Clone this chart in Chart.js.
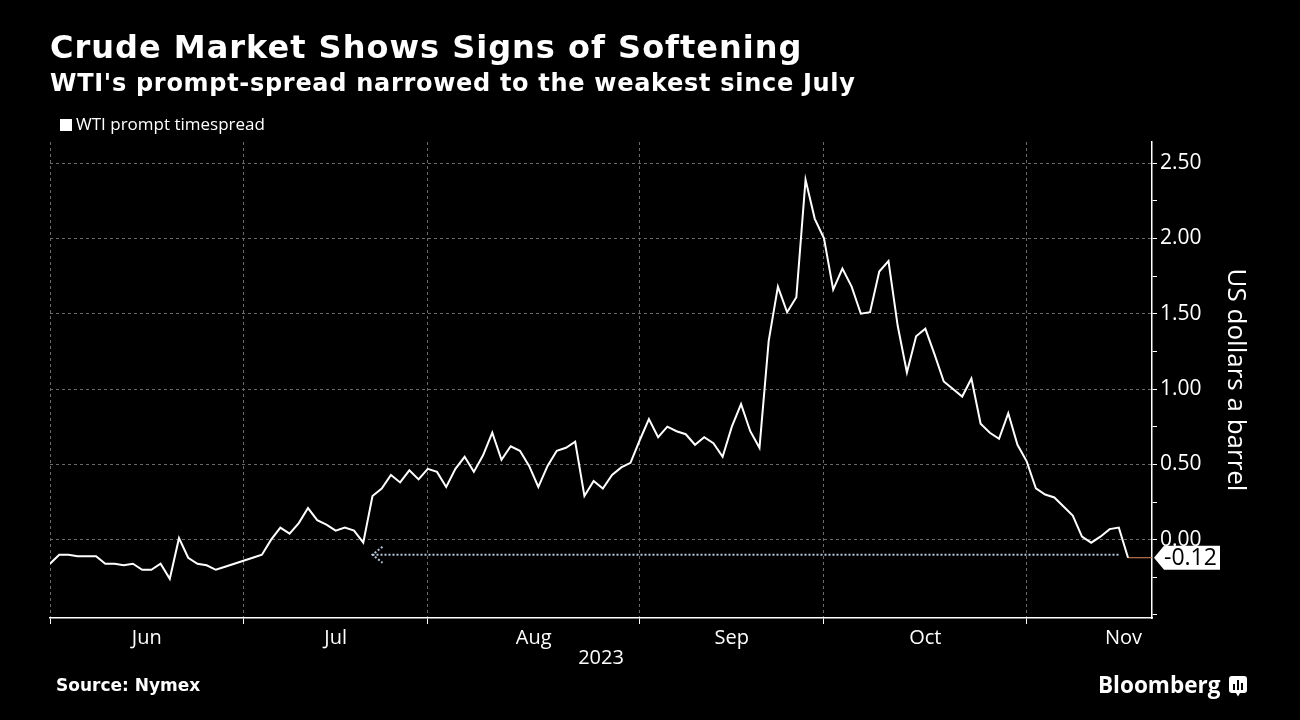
<!DOCTYPE html>
<html lang="en">
<head>
<meta charset="UTF-8">
<title>Crude Market Shows Signs of Softening</title>
<script src="https://cdn.jsdelivr.net/npm/chart.js"></script>
<style>
    html, body { margin: 0; padding: 0; background: #000; }
    .wrap { position: relative; width: 1300px; height: 720px; overflow: hidden; color: #fff; }
    canvas { position: absolute; left: 0; top: 0; }
    .title { position: absolute; left: 50px; top: 28px; font: bold 32px 'DejaVu Sans', sans-serif; letter-spacing: 1px; white-space: nowrap; }
    .subtitle { position: absolute; left: 50px; top: 69px; font: bold 24px 'DejaVu Sans', sans-serif; letter-spacing: 0.7px; white-space: nowrap; }
    .legend { position: absolute; left: 60px; top: 112px; font: 17px 'Open Sans', sans-serif; white-space: nowrap; }
    .legend i { display: inline-block; width: 12px; height: 12px; background: #fff; margin-right: 4px; vertical-align: -1px; }
    .source { position: absolute; left: 56px; top: 675px; font: bold 17px 'DejaVu Sans', sans-serif; }
    .brand { position: absolute; left: 1098px; top: 669px; font: bold 22.5px 'Open Sans', sans-serif; white-space: nowrap; }
    .brand svg { vertical-align: -4px; margin-left: 9px; }
</style>
</head>
<body>
<div class="wrap">
    <canvas id="chart" width="1300" height="720"></canvas>
    <div class="title">Crude Market Shows Signs of Softening</div>
    <div class="subtitle">WTI's prompt-spread narrowed to the weakest since July</div>
    <div class="legend"><i></i>WTI prompt timespread</div>
    <div class="source">Source: Nymex</div>
    <div class="brand">Bloomberg<svg width="18" height="21" viewBox="0 0 18 21">
        <rect x="0" y="0" width="18" height="17" rx="3" fill="#fff"/>
        <path d="M7 17 L9 20.5 L11 17 Z" fill="#fff"/>
        <rect x="4" y="8" width="2" height="6" fill="#000"/>
        <rect x="8" y="4" width="2" height="10" fill="#000"/>
        <rect x="12" y="7" width="2" height="7" fill="#000"/>
    </svg></div>
</div>

<script>
    // WTI prompt timespread, one value per trading day from Jun 1 2023
    const values = [
        -0.16, -0.10, -0.10, -0.11, -0.11, -0.11, -0.16, -0.16, -0.17, -0.16,
        -0.20, -0.20, -0.16, -0.26, 0.01, -0.12, -0.16, -0.17, -0.20, -0.18,
        -0.16, -0.14, -0.12, -0.10, 0.00, 0.08, 0.04, 0.11, 0.21, 0.13,
        0.10, 0.06, 0.08, 0.06, -0.02, 0.29, 0.34, 0.43, 0.38, 0.46,
        0.40, 0.47, 0.45, 0.35, 0.47, 0.55, 0.45, 0.56, 0.71, 0.53,
        0.62, 0.59, 0.49, 0.35, 0.49, 0.59, 0.61, 0.65, 0.29, 0.39,
        0.34, 0.43, 0.48, 0.51, 0.66, 0.80, 0.68, 0.75, 0.72, 0.70,
        0.63, 0.68, 0.64, 0.55, 0.75, 0.90, 0.72, 0.61, 1.32, 1.68,
        1.51, 1.61, 2.39, 2.13, 2.00, 1.66, 1.80, 1.68, 1.50, 1.51,
        1.78, 1.85, 1.42, 1.11, 1.35, 1.40, 1.23, 1.05, 1.00, 0.95,
        1.07, 0.77, 0.71, 0.67, 0.84, 0.63, 0.52, 0.34, 0.30, 0.28,
        0.22, 0.16, 0.02, -0.02, 0.02, 0.07, 0.08, -0.12
    ];

    // trading-day index where each month starts (Jun .. Dec)
    const monthStarts = [0, 21, 41, 64, 84, 106, 127];
    const monthLabels = ['Jun', 'Jul', 'Aug', 'Sep', 'Oct', 'Nov'];
    const yearLabel = '2023';
    const yTicks = [-0.5, -0.25, 0, 0.25, 0.5, 0.75, 1, 1.25, 1.5, 1.75, 2, 2.25, 2.5];

    // "weakest since July" marker
    const arrowLevel = -0.10;
    const arrowFrom = 35;
    const arrowTo = 116;

    const xMax = 119.6;
    const yMin = -0.52;
    const yMax = 2.64;

    const lastIndex = values.length - 1;
    const lastValue = values[lastIndex];
    const monthMids = monthLabels.map((m, i) => (monthStarts[i] + monthStarts[i + 1]) / 2);
    const isBoundary = v => monthStarts.includes(v);
    const isMajor = v => v >= 0 && Math.abs(v * 2 - Math.round(v * 2)) < 1e-6;

    Chart.defaults.font.family = "'Open Sans', sans-serif";
    Chart.defaults.color = '#fff';

    const annotate = {
        id: 'annotate',
        afterDatasetsDraw(chart) {
            const { ctx, scales: { x, y } } = chart;
            const ax = x.getPixelForValue(arrowFrom);
            const ay = y.getPixelForValue(arrowLevel);
            ctx.save();
            ctx.strokeStyle = '#b9c9dd';
            ctx.lineWidth = 2;
            ctx.setLineDash([2, 2]);
            ctx.beginPath();
            ctx.moveTo(ax + 10, ay - 8);
            ctx.lineTo(ax, ay);
            ctx.lineTo(ax + 10, ay + 8);
            ctx.stroke();
            ctx.restore();
        },
        afterDraw(chart) {
            const { ctx, chartArea, scales: { y } } = chart;
            const ty = y.getPixelForValue(lastValue);
            const x0 = chartArea.right + 2;
            ctx.save();
            ctx.fillStyle = '#fff';
            ctx.beginPath();
            ctx.moveTo(x0, ty);
            ctx.lineTo(x0 + 10, ty - 12);
            ctx.lineTo(x0 + 66, ty - 12);
            ctx.lineTo(x0 + 66, ty + 12);
            ctx.lineTo(x0 + 10, ty + 12);
            ctx.closePath();
            ctx.fill();
            ctx.fillStyle = '#000';
            ctx.font = "23px 'Open Sans', sans-serif";
            ctx.textBaseline = 'middle';
            ctx.fillText(lastValue.toFixed(2), x0 + 10, ty + 1);
            ctx.restore();
        }
    };

    new Chart(document.getElementById('chart'), {
        type: 'line',
        data: {
            datasets: [{
                label: 'WTI prompt timespread',
                data: values.map((v, i) => ({ x: i, y: v })),
                borderColor: '#fff',
                borderWidth: 2,
                pointRadius: 0,
                tension: 0
            }, {
                label: 'since July',
                data: [{ x: arrowFrom, y: arrowLevel }, { x: arrowTo, y: arrowLevel }],
                borderColor: '#b9c9dd',
                borderWidth: 2,
                borderDash: [2, 2],
                pointRadius: 0
            }, {
                label: 'last',
                data: [{ x: lastIndex, y: lastValue }, { x: xMax, y: lastValue }],
                borderColor: '#e08a5e',
                borderWidth: 1,
                pointRadius: 0
            }]
        },
        options: {
            responsive: false,
            animation: false,
            layout: { padding: { top: 142, left: 50, right: 0, bottom: 0 } },
            plugins: { legend: { display: false }, tooltip: { enabled: false } },
            scales: {
                x: {
                    type: 'linear',
                    min: 0,
                    max: xMax,
                    afterBuildTicks: s => {
                        s.ticks = [...monthStarts.slice(0, -1), ...monthMids].sort((a, b) => a - b).map(v => ({ value: v }));
                    },
                    afterFit: s => { s.height = 102; },
                    grid: {
                        color: c => isBoundary(c.tick && c.tick.value) ? '#6a6a6a' : 'transparent',
                        tickColor: c => isBoundary(c.tick && c.tick.value) ? '#fff' : 'transparent',
                        tickLength: 6,
                        tickBorderDash: []
                    },
                    border: { color: '#fff', width: 1.5, dash: [3, 3] },
                    ticks: {
                        autoSkip: false,
                        maxRotation: 0,
                        padding: 2,
                        font: { size: 20 },
                        callback: v => {
                            const i = monthMids.indexOf(v);
                            return i >= 0 ? monthLabels[i] : '';
                        }
                    },
                    title: {
                        display: true,
                        text: yearLabel,
                        font: { size: 20 },
                        padding: { top: 0, bottom: 50 }
                    }
                },
                y: {
                    position: 'right',
                    min: yMin,
                    max: yMax,
                    afterBuildTicks: s => { s.ticks = yTicks.map(v => ({ value: v })); },
                    afterFit: s => { s.width = 148; },
                    grid: {
                        color: c => isMajor(c.tick && c.tick.value) ? '#6a6a6a' : 'transparent',
                        tickColor: '#fff',
                        tickLength: 5,
                        tickBorderDash: []
                    },
                    border: { color: '#fff', width: 1.5, dash: [3, 3] },
                    ticks: {
                        padding: 3,
                        font: { size: 21 },
                        callback: v => isMajor(v) ? v.toFixed(2) : ''
                    },
                    title: {
                        display: true,
                        text: 'US dollars a barrel',
                        font: { size: 26 },
                        padding: { top: 49, bottom: 0 }
                    }
                }
            }
        },
        plugins: [annotate]
    });
</script>
</body>
</html>
